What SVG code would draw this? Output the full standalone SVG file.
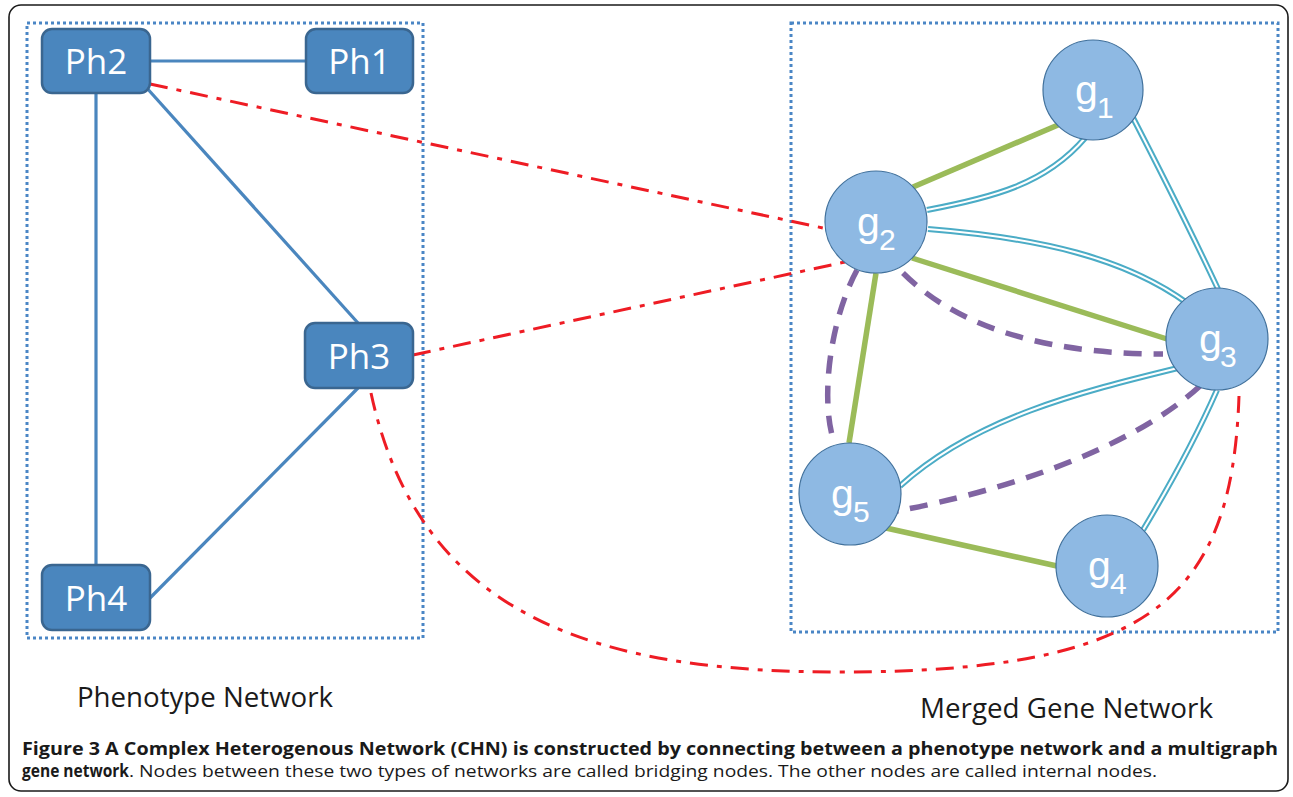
<svg xmlns="http://www.w3.org/2000/svg" width="1293" height="797" viewBox="0 0 1293 797">
  <style>
    .frame { fill: #ffffff; stroke: #1a1a1a; stroke-width: 1.6; }
    .group { fill: none; stroke: #4a86c5; stroke-width: 3; stroke-dasharray: 3 3; }
    .ph rect { fill: #4a86be; stroke: #3a6690; stroke-width: 2.5; }
    .ph text { fill: #ffffff; font-family: "Open Sans", "DejaVu Sans", sans-serif; font-size: 35px; text-anchor: middle; }
    .gene circle { fill: #8eb9e3; stroke: #41719c; stroke-width: 1.2; }
    .gene text { fill: #ffffff; font-family: "Liberation Sans", Arial, sans-serif; }
    .gene .g { font-size: 41px; }
    .gene .sub { font-size: 30px; }
    .pedge { fill: none; stroke: #4a86be; stroke-width: 3.2; }
    .bridge { fill: none; stroke: #ee1c24; stroke-width: 3; stroke-dasharray: 18 9 5 9; }
    .green { fill: none; stroke: #9bbb59; stroke-width: 5.5; }
    .cyanO { fill: none; stroke: #4bacc6; stroke-width: 6; }
    .cyanI { fill: none; stroke: #ffffff; stroke-width: 2; }
    .purple { fill: none; stroke: #8064a2; stroke-width: 5.5; stroke-dasharray: 18 12; }
    .label { fill: #1a1a1a; font-family: "Open Sans", "DejaVu Sans", sans-serif; font-size: 27px; }
    .cap { fill: #1a1a1a; font-family: "Open Sans", "DejaVu Sans", sans-serif; font-size: 17px; }
    .capb { font-weight: bold; }
  </style>
  <defs>
    <path id="c21" d="M927,210 C990,198 1045,185 1085,138"/>
    <path id="c23" d="M928,229 C1040,238 1125,258 1187,303"/>
    <path id="c13" d="M1130,112 C1160,170 1195,240 1218,289"/>
    <path id="c35" d="M1178,368 C1080,392 975,418 900,486"/>
    <path id="c34" d="M1217,390 C1195,440 1170,485 1143,530"/>
  </defs>

  <!-- outer panel -->
  <rect class="frame" x="9" y="5" width="1279" height="786" rx="12" ry="12"/>

  <!-- network regions -->
  <rect class="group" x="27" y="23" width="396" height="615"/>
  <rect class="group" x="791" y="23" width="487" height="609"/>

  <!-- connectors -->
  <g id="connectors">
    <!-- phenotype network edges -->
    <line class="pedge" x1="150" y1="61" x2="306" y2="61"/>
    <line class="pedge" x1="96" y1="93" x2="96" y2="565"/>
    <line class="pedge" x1="145" y1="86" x2="358" y2="323"/>
    <line class="pedge" x1="358" y1="388" x2="150" y2="598"/>

    <!-- gene network: green edges -->
    <line class="green" x1="913" y1="187" x2="1058" y2="125"/>
    <line class="green" x1="912" y1="258" x2="1167" y2="339"/>
    <line class="green" x1="876" y1="273" x2="849" y2="443"/>
    <line class="green" x1="886" y1="528" x2="1057" y2="566"/>

    <!-- gene network: double cyan edges -->
    <use href="#c21" class="cyanO"/><use href="#c21" class="cyanI"/>
    <use href="#c23" class="cyanO"/><use href="#c23" class="cyanI"/>
    <use href="#c13" class="cyanO"/><use href="#c13" class="cyanI"/>
    <use href="#c35" class="cyanO"/><use href="#c35" class="cyanI"/>
    <use href="#c34" class="cyanO"/><use href="#c34" class="cyanI"/>

    <!-- gene network: dashed purple edges -->
    <path class="purple" d="M903,273 C950,320 1030,354 1163,354"/>
    <path class="purple" d="M857,270 C830,320 820,400 834,442"/>
    <path class="purple" d="M1200,386 C1130,450 1000,492 897,511"/>

    <!-- bridging edges -->
    <line class="bridge" x1="150" y1="84" x2="823" y2="228"/>
    <line class="bridge" x1="413" y1="355" x2="845" y2="262"/>
    <path class="bridge" d="M371,393 C420,620 600,672 840,672 C1150,672 1232,600 1239,396"/>
  </g>

  <!-- phenotype nodes -->
  <g id="Ph2" class="ph"><rect x="42" y="29" width="108" height="64" rx="10"/><text x="96" y="74">Ph2</text></g>
  <g id="Ph1" class="ph"><rect x="306" y="29" width="107" height="64" rx="10"/><text x="359.5" y="74">Ph1</text></g>
  <g id="Ph3" class="ph"><rect x="305" y="323" width="108" height="65" rx="10"/><text x="359" y="369">Ph3</text></g>
  <g id="Ph4" class="ph"><rect x="42" y="565" width="108" height="65" rx="10"/><text x="96" y="611">Ph4</text></g>

  <!-- gene nodes -->
  <g id="g1" class="gene"><circle cx="1093" cy="90" r="50"/><text class="g" x="1075" y="104">g</text><text class="sub" x="1097" y="118">1</text></g>
  <g id="g2" class="gene"><circle cx="876" cy="222" r="51"/><text class="g" x="857" y="236">g</text><text class="sub" x="879" y="250">2</text></g>
  <g id="g3" class="gene"><circle cx="1217" cy="339" r="51"/><text class="g" x="1199" y="353">g</text><text class="sub" x="1220" y="367">3</text></g>
  <g id="g5" class="gene"><circle cx="850" cy="494" r="51"/><text class="g" x="831" y="508">g</text><text class="sub" x="853" y="522">5</text></g>
  <g id="g4" class="gene"><circle cx="1107" cy="566" r="51"/><text class="g" x="1088" y="580">g</text><text class="sub" x="1110" y="594">4</text></g>

  <!-- region labels -->
  <text class="label" x="77" y="707" textLength="256" lengthAdjust="spacingAndGlyphs">Phenotype Network</text>
  <text class="label" x="920" y="718" textLength="293" lengthAdjust="spacingAndGlyphs">Merged Gene Network</text>

  <!-- caption -->
  <text class="cap capb" x="22" y="755" textLength="1256" lengthAdjust="spacingAndGlyphs">Figure 3 A Complex Heterogenous Network (CHN) is constructed by connecting between a phenotype network and a multigraph</text>
  <text class="cap capb" x="22" y="777" textLength="107" lengthAdjust="spacingAndGlyphs">gene network</text>
  <text class="cap" x="129" y="777" textLength="1028" lengthAdjust="spacingAndGlyphs">. Nodes between these two types of networks are called bridging nodes. The other nodes are called internal nodes.</text>
</svg>
